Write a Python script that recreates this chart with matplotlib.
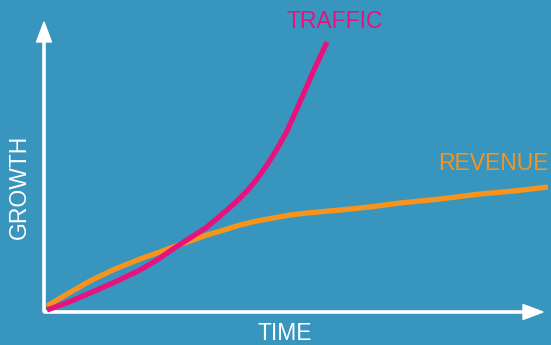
import matplotlib.pyplot as plt

plt.rcParams['font.family'] = ['Liberation Sans', 'DejaVu Sans']

# data (time vs growth, arbitrary units)
traffic_t = [3, 25, 46, 71, 96, 113, 129, 146, 163, 183, 193, 203, 213, 223, 233, 243, 256, 269, 283]
traffic_g = [2, 10, 19, 30, 42, 52, 63, 74, 85, 102, 111, 121, 133, 147, 163, 181, 210, 240, 270]
revenue_t = [3, 25, 46, 71, 96, 113, 129, 146, 163, 180, 196, 213, 229, 246, 263, 296, 326, 356, 396, 436, 470, 504]
revenue_g = [6, 19, 31, 43, 53, 59, 65, 71, 77, 82, 87, 91, 94, 97, 99, 102, 105, 109, 113, 118, 121, 125]

BG = '#3895bd'
PINK = '#e8127f'
ORANGE = '#f7941d'

fig = plt.figure(figsize=(5.51, 3.45), dpi=100, facecolor=BG)
ax = fig.add_axes([0, 0, 1, 1])
ax.set_facecolor(BG)
ax.set_xlim(-44, 507)
ax.set_ylim(-33, 312)
ax.axis('off')

# axes with arrows
ax.arrow(0, 0, 0, 290, width=2.2, head_width=15, head_length=20,
         length_includes_head=True, color='white', zorder=2)
ax.arrow(0, 0, 499, 0, width=2.2, head_width=15, head_length=20,
         length_includes_head=True, color='white', zorder=2)

ax.plot(revenue_t, revenue_g, color=ORANGE, lw=3.8, solid_capstyle='butt',
        solid_joinstyle='round', zorder=3)
ax.plot(traffic_t, traffic_g, color=PINK, lw=3.8, solid_capstyle='butt',
        solid_joinstyle='round', zorder=4)

ax.text(291, 290, 'TRAFFIC', color=PINK, fontsize=16.5, ha='center', va='center')
ax.text(449, 149, 'REVENUE', color=ORANGE, fontsize=16.5, ha='center', va='center')
ax.text(-25, 125, 'GROWTH', color='white', fontsize=16.5, ha='center', va='center',
        rotation=90)
ax.text(241, -21, 'TIME', color='white', fontsize=16.5, ha='center', va='center')

fig.savefig('out.png', dpi=100, facecolor=BG)
